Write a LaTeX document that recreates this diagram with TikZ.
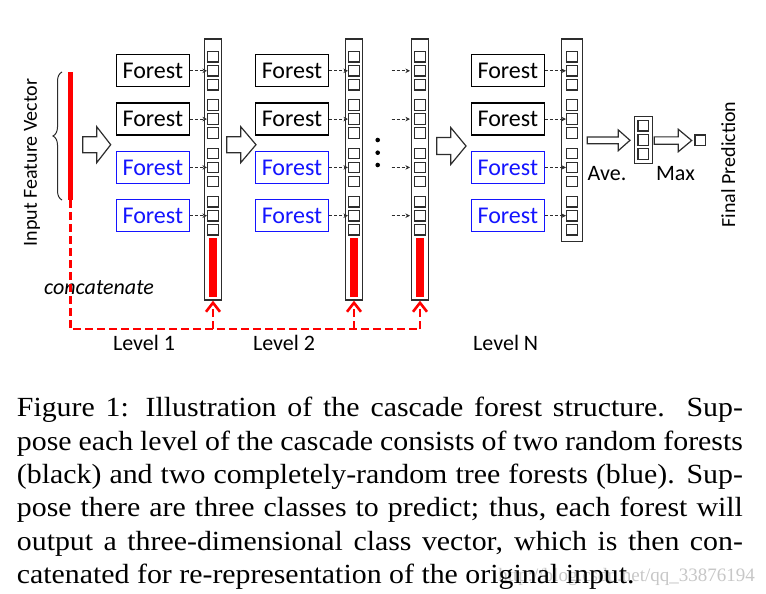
\documentclass[tikz,border=0pt]{standalone}
\usepackage{fontspec}
\setmainfont{Liberation Serif}
\newfontfamily\calfont{Carlito}
\usetikzlibrary{decorations.pathreplacing,arrows.meta}
\definecolor{fblue}{RGB}{20,20,255}
\definecolor{fred}{RGB}{255,0,0}
\definecolor{edge}{RGB}{45,45,45}
\tikzset{
  forestbox/.style={draw=#1, text=#1, line width=1.3pt, minimum width=73pt, minimum height=32pt, inner sep=0pt,
    font=\calfont\fontsize{24}{24}\selectfont},
  vecbar/.style={draw=edge, line width=1.3pt, inner sep=0pt, fill=white},
  cellbox/.style={draw=edge, line width=1.1pt, minimum width=11pt, minimum height=10.5pt, inner sep=0pt},
  darr/.style={draw=edge, dash pattern=on 3pt off 2pt, line width=0.9pt, -{Stealth[length=4.5pt,width=4.5pt]}},
  redline/.style={draw=fred, line width=2.6pt, dash pattern=on 8pt off 4pt},
  redtip/.style={-{Straight Barb[length=9pt,width=14pt,line width=2.6pt]}},
  lbl/.style={font=\calfont\fontsize{22}{22}\selectfont, inner sep=0pt},
  vlbl/.style={font=\calfont\fontsize{20}{20}\selectfont, inner sep=0pt, rotate=90},
  capline/.style={anchor=base west, inner sep=0pt, font=\fontsize{27.7}{33.3}\selectfont}
}
\newcommand\cellcol[2]{%
  \foreach \g in {0,1,2,3}{\foreach \j in {0,1,2}{%
    \node[cellbox] (#2-\g-\j) at (#1, 56.8+48.3*\g+14*\j) {};}}}
\newcommand\blockarrow[6]{%
  \draw[draw=edge, line width=1.2pt, fill=white, line join=miter]
   (#1,#4-#5/2) -- (#2,#4-#5/2) -- (#2,#4-#6/2) -- (#3,#4) -- (#2,#4+#6/2) -- (#2,#4+#5/2) -- (#1,#4+#5/2) -- cycle;}
\newcommand\capjust[1]{\scalebox{1.078}[1]{\makebox[673.5pt][s]{#1}}}
\begin{document}
\begin{tikzpicture}[x=1pt,y=-1pt]
\useasboundingbox (0,0) rectangle (766,594);
\fill[white] (0,0) rectangle (766,594);

% input vector
\node[vlbl] (inlabel) at (32,162.5) {Input Feature Vector};
\draw[draw=edge, line width=1pt, decorate, decoration={brace, amplitude=9pt}] (62,200) -- (62,72);
\node[fill=fred, minimum width=5pt, minimum height=128pt, inner sep=0pt] (inbar) at (70.2,136) {};
\node[lbl, font=\calfont\itshape\fontsize{22}{22}\selectfont] (concat) at (99,288) {concatenate};

% block arrows
\blockarrow{82.7}{96.7}{110.7}{144.7}{16}{36}
\blockarrow{226.7}{240.7}{256}{144.7}{16}{36}
\blockarrow{436.7}{450.7}{466}{146}{17}{37}
\blockarrow{587.3}{618.3}{630}{140.3}{6.7}{20.7}
\blockarrow{654.3}{678.3}{691.7}{140.5}{7.3}{22.4}

% columns
\node[vecbar, minimum width=17.4pt, minimum height=261pt] (col1) at (213,169.5) {};
\node[vecbar, minimum width=16.6pt, minimum height=261pt] (col2) at (354,169.5) {};
\node[vecbar, minimum width=16.6pt, minimum height=261pt] (colN) at (420,169.5) {};
\node[vecbar, minimum width=20.6pt, minimum height=202.7pt] (colF) at (572,140.35) {};
\cellcol{213}{a}
\cellcol{354}{b}
\cellcol{420}{c}
\cellcol{572}{d}
\fill[fred] (209.3,238.3) rectangle (217.3,296.7);
\fill[fred] (350,238.3) rectangle (358,296.7);
\fill[fred] (416,238.3) rectangle (424,296.7);

% forests
\foreach \g/\c in {0/black,1/black,2/fblue,3/fblue}{
  \node[forestbox=\c] (fa\g) at (152.8,70.8+48.3*\g) {Forest};
  \node[forestbox=\c] (fb\g) at (292,70.8+48.3*\g) {Forest};
  \node[forestbox=\c] (fn\g) at (507.8,70.8+48.3*\g) {Forest};
  \draw[darr] (fa\g.east) -- (a-\g-1.west);
  \draw[darr] (fb\g.east) -- (b-\g-1.west);
  \draw[darr] (fn\g.east) -- (d-\g-1.west);
  \coordinate (dn\g) at (391.7,70.8+48.3*\g);
  \draw[darr, shorten >=4pt] (dn\g) -- (c-\g-1.west);
}
\foreach \y in {140,152.7,165}{\fill (377.7,\y) circle (2.3pt);}

% average / max
\node[vecbar, minimum width=18pt, minimum height=46.6pt] (avg) at (643.3,140) {};
\foreach \j in {0,1,2}{\node[cellbox, minimum width=10.6pt] (e-\j) at (643.3,125.7+14.2*\j) {};}
\node[cellbox, minimum width=10.7pt, minimum height=10.7pt] (final) at (700.3,140.3) {};
\node[lbl] (ave) at (607,173.3) {Ave.};
\node[lbl] (max) at (675.5,173.3) {Max};
\node[vlbl] (fp) at (728.3,164.5) {Final Prediction};

% concatenation links
\coordinate (bus) at (0,329);
\draw[redline, line join=miter] (inbar.south) -- (inbar.south |- bus) -- (colN.south |- bus);
\draw[redline, redtip] (col1.south |- bus) -- (col1.south);
\draw[redline, redtip] (col2.south |- bus) -- (col2.south);
\draw[redline, redtip] (colN.south |- bus) -- (colN.south);

% level labels
\node[lbl] (l1) at (144,343) {Level 1};
\node[lbl] (l2) at (284,343) {Level 2};
\node[lbl] (lN) at (505.7,343) {Level N};

% caption
\node[anchor=base east, inner sep=0pt, text=black!22, font=\fontsize{19}{19}\selectfont] (wm) at (755,581) {http://blog.csdn.net/qq\_33876194};
\node[capline] (c1) at (16.7,416.7) {\capjust{Figure 1: Illustration of the cascade forest structure.\ \ Sup-}};
\node[capline] (c2) at (16.7,450) {\capjust{pose each level of the cascade consists of two random forests}};
\node[capline] (c3) at (16.7,483.3) {\capjust{(black) and two completely-random tree forests (blue). Sup-}};
\node[capline] (c4) at (16.7,516.7) {\capjust{pose there are three classes to predict; thus, each forest will}};
\node[capline] (c5) at (16.7,550) {\capjust{output a three-dimensional class vector, which is then con-}};
\node[capline] (c6) at (16.7,583.3) {\scalebox{1.078}[1]{catenated for re-representation of the original input.}};
\end{tikzpicture}
\end{document}
